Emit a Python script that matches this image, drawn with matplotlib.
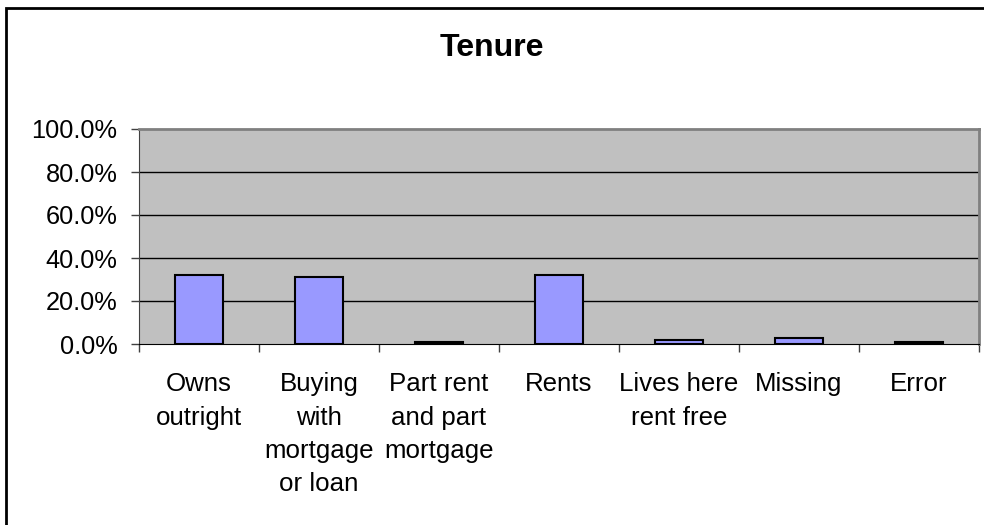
import matplotlib.pyplot as plt
import numpy as np

plt.rcParams['font.family'] = ['Liberation Sans', 'DejaVu Sans']

categories = ["Owns\noutright", "Buying\nwith\nmortgage\nor loan", "Part rent\nand part\nmortgage",
              "Rents", "Lives here\nrent free", "Missing", "Error"]
percent = [32.3, 31.2, 0.7, 32.3, 2.0, 2.9, 0.7]
y_ticks = [0, 20, 40, 60, 80, 100]

fig = plt.figure(figsize=(9.84, 5.25), dpi=100)
ax = fig.add_axes([139 / 984, 1 - 344 / 525, 840 / 984, 215 / 525])
ax.set_facecolor('#C0C0C0')

x = np.arange(len(categories))
ax.bar(x, percent, width=0.4, color='#9999FF', edgecolor='black', linewidth=1.5, zorder=3)

for y in y_ticks[1:-1]:
    ax.axhline(y=y, color='black', linewidth=1, zorder=1)

ax.set_xlim(-0.5, len(categories) - 0.5)
ax.set_ylim(0, 100)
ax.set_yticks(y_ticks)
ax.set_yticklabels([f"{v:.1f}%" for v in y_ticks], fontsize=18.3)
ax.tick_params(axis='y', length=5.5, width=1, color='#404040', pad=10)

ax.set_xticks(np.arange(len(categories) + 1) - 0.5)
ax.set_xticklabels([])
ax.tick_params(axis='x', which='major', length=6, width=1, color='#404040')
ax.set_xticks(x, minor=True)
ax.set_xticklabels(categories, minor=True, fontsize=18.6, linespacing=1.48)
ax.tick_params(axis='x', which='minor', length=0, pad=20.5)

ax.spines['top'].set_color('#808080')
ax.spines['right'].set_color('#808080')
ax.spines['top'].set_linewidth(2)
ax.spines['right'].set_linewidth(2)
ax.spines['left'].set_color('#404040')
ax.spines['bottom'].set_color('black')

fig.text(0.5, 1 - 48 / 525, "Tenure", ha='center', va='center', fontsize=23, fontweight='bold')

border = plt.Rectangle((6 / 984, -0.01), 1.0, 1 - 8 / 525 + 0.01, transform=fig.transFigure,
                       fill=False, edgecolor='black', linewidth=2)
fig.patches.append(border)

fig.savefig('out.png', dpi=100)
